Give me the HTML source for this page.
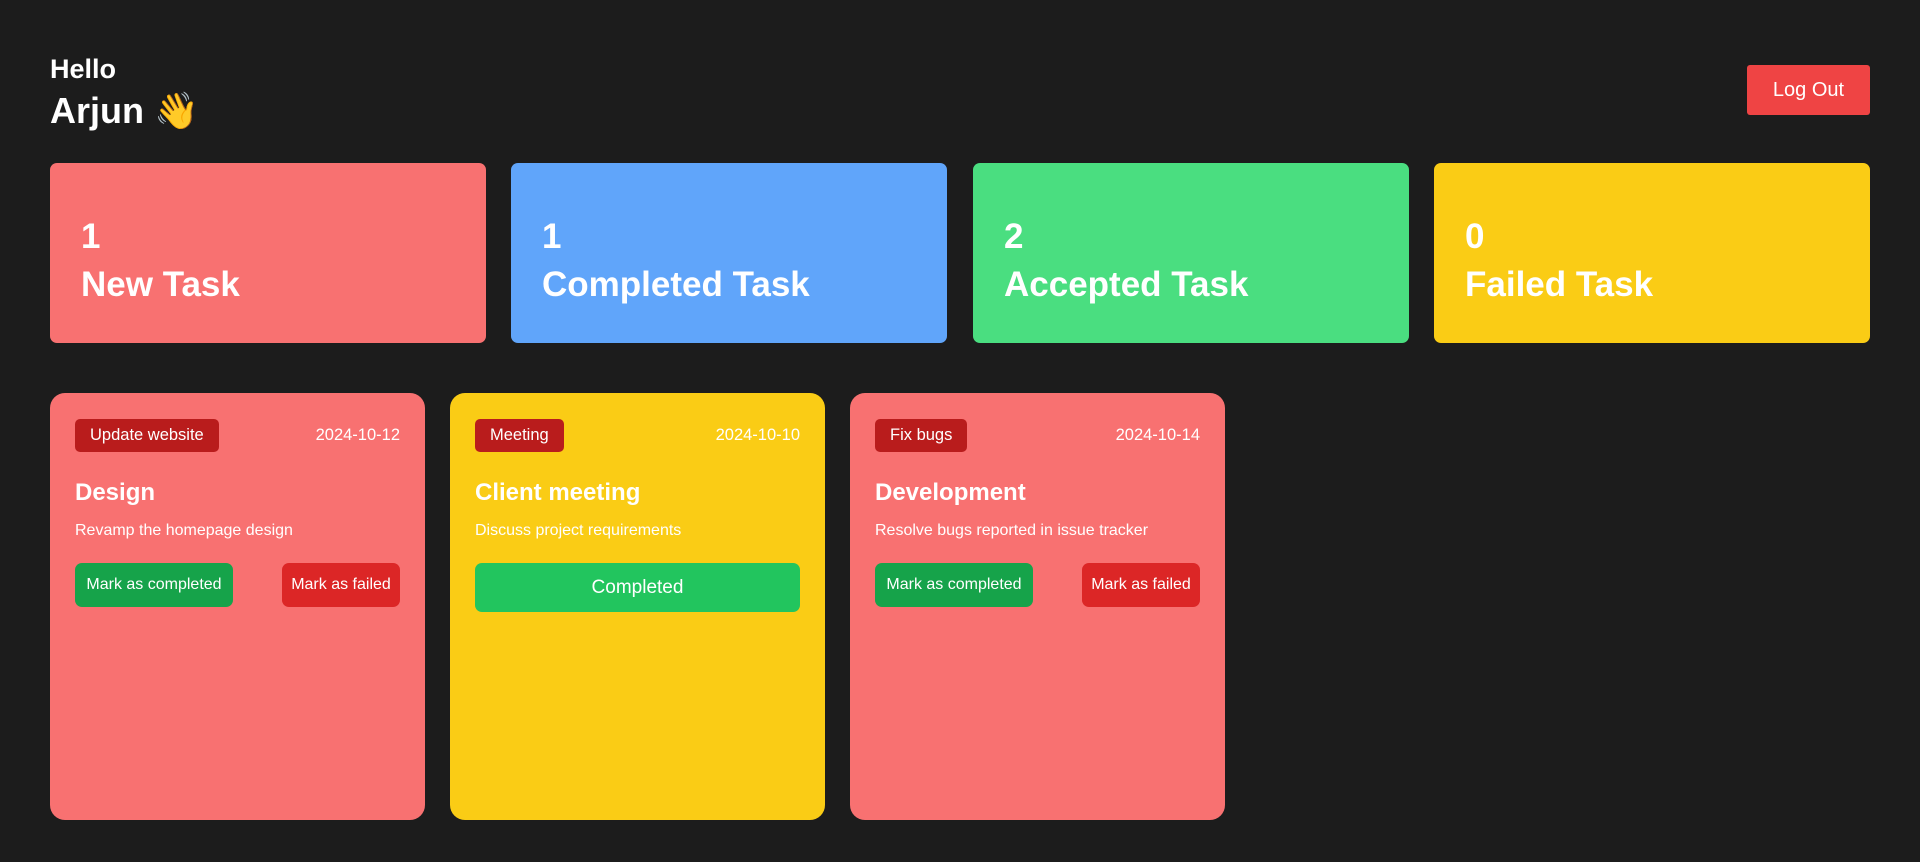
<!DOCTYPE html>
<html><head><meta charset="utf-8"><style>
*{box-sizing:border-box;margin:0;padding:0}
body{width:1920px;height:862px;background:#1c1c1c;font-family:"Liberation Sans",sans-serif;color:#fff;position:relative;overflow:hidden}
.abs{position:absolute}
.hello{left:50px;top:53px;font-size:27px;font-weight:600;line-height:32px}
.name{left:50px;top:90px;font-size:36px;font-weight:600;line-height:42px}
.logout{left:1747px;top:65px;width:123px;height:50px;background:#ef4444;border-radius:3px;font-size:20px;display:flex;align-items:center;justify-content:center}
.stat{top:163px;width:436px;height:180px;border-radius:7px;padding:50px 31px;font-size:35px;font-weight:600;line-height:48px}
.card{top:393px;width:375px;height:427px;border-radius:15px;padding:0 25px}
.tag{position:absolute;left:25px;top:26px;height:33px;padding:0 15px;background:#b91c1c;border-radius:5px;font-size:16.5px;line-height:33px}
.date{position:absolute;right:25px;top:26px;line-height:33px;font-size:16.5px}
.t{position:absolute;left:25px;top:85px;font-size:24px;font-weight:700;line-height:30px}
.d{position:absolute;left:25px;top:128px;font-size:16px;line-height:20px}
.b1{position:absolute;left:25px;top:170px;width:158px;height:44px;background:#16a34a;border-radius:7px;font-size:16px;display:flex;align-items:center;justify-content:center}
.b2{position:absolute;right:25px;top:170px;width:118px;height:44px;background:#dc2626;border-radius:7px;font-size:16px;display:flex;align-items:center;justify-content:center}
.b3{position:absolute;left:25px;right:25px;top:170px;height:49px;background:#22c55e;border-radius:7px;font-size:19px;display:flex;align-items:center;justify-content:center}
</style></head><body>
<div class="abs hello">Hello</div>
<div class="abs name">Arjun 👋</div>
<div class="abs logout">Log Out</div>
<div class="abs stat" style="left:50px;background:#f87171">1<br>New Task</div>
<div class="abs stat" style="left:511px;background:#60a5fa">1<br>Completed Task</div>
<div class="abs stat" style="left:973px;background:#4ade80">2<br>Accepted Task</div>
<div class="abs stat" style="left:1434px;background:#facc15">0<br>Failed Task</div>
<div class="abs card" style="left:50px;background:#f87171">
<div class="tag">Update website</div><div class="date">2024-10-12</div>
<div class="t">Design</div><div class="d">Revamp the homepage design</div>
<div class="b1">Mark as completed</div><div class="b2">Mark as failed</div></div>
<div class="abs card" style="left:450px;background:#facc15">
<div class="tag">Meeting</div><div class="date">2024-10-10</div>
<div class="t">Client meeting</div><div class="d">Discuss project requirements</div>
<div class="b3">Completed</div></div>
<div class="abs card" style="left:850px;background:#f87171">
<div class="tag">Fix bugs</div><div class="date">2024-10-14</div>
<div class="t">Development</div><div class="d">Resolve bugs reported in issue tracker</div>
<div class="b1">Mark as completed</div><div class="b2">Mark as failed</div></div>
</body></html>
